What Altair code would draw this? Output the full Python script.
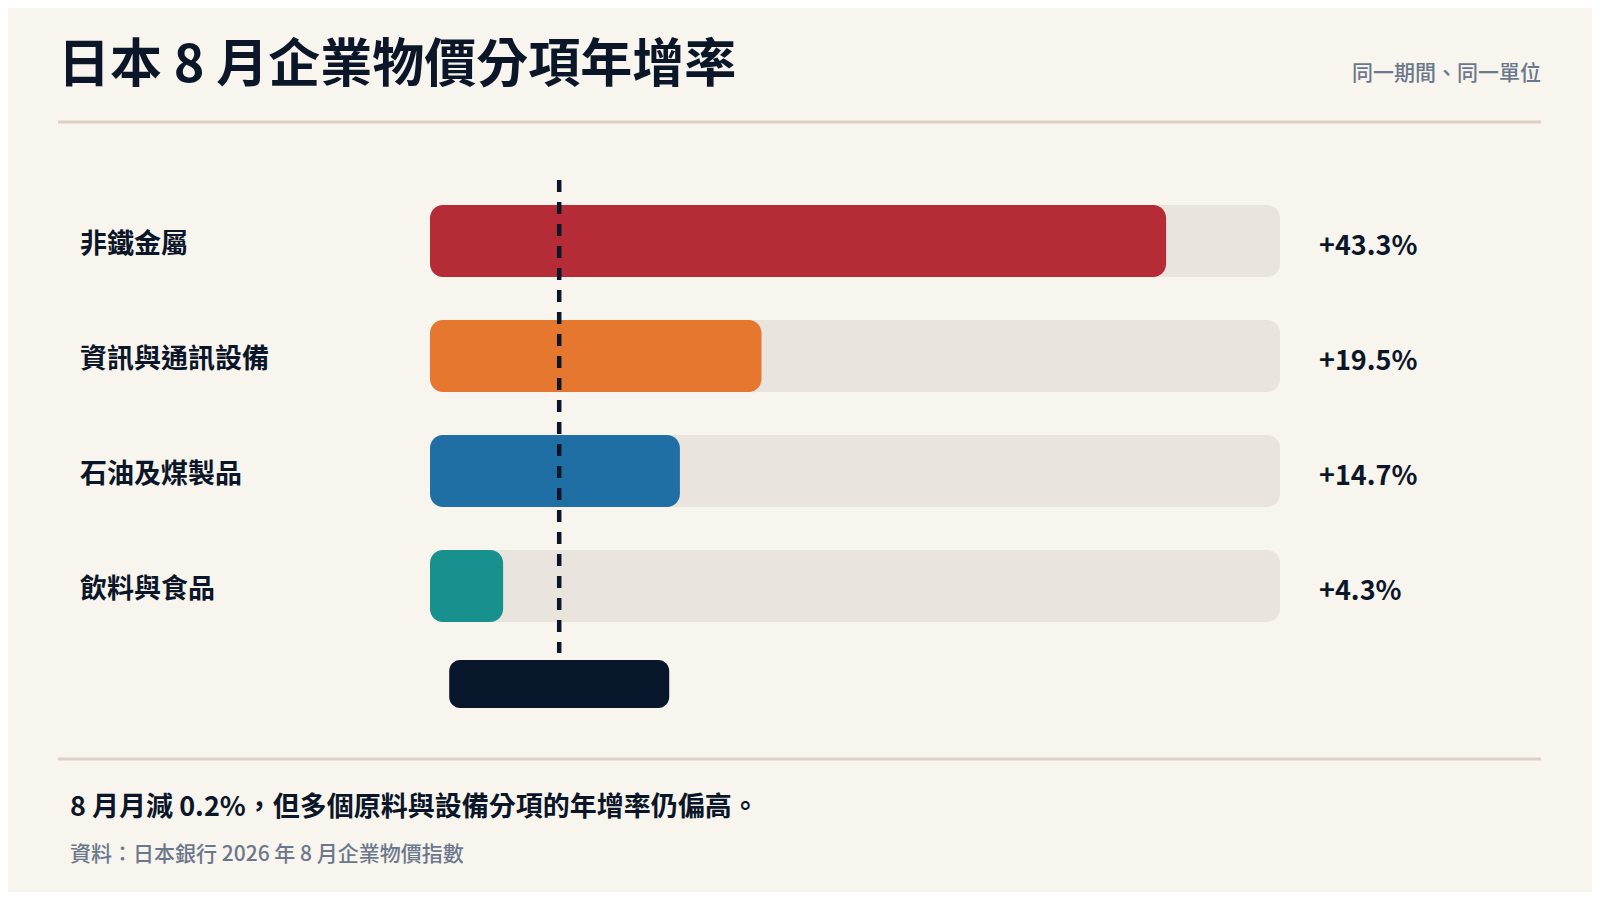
import altair as alt
import pandas as pd

categories = ["非鐵金屬", "資訊與通訊設備", "石油及煤製品", "飲料與食品"]
values = [43.3, 19.5, 14.7, 4.3]
value_labels = ["+43.3%", "+19.5%", "+14.7%", "+4.3%"]
colors = ["#b52c36", "#e5782e", "#1f6fa5", "#18908d"]
track_max = 50
ref_value = 7.6

title_text = "日本 8 月企業物價分項年增率"
subtitle_text = "同一期間、同一單位"
note_text = "8 月月減 0.2%，但多個原料與設備分項的年增率仍偏高。"
source_text = "資料：日本銀行 2026 年 8 月企業物價指數"

FONT = "Noto Sans CJK TC"
BG = "#f8f4ee"
INK = "#0b1629"
GRAY = "#6b788b"
RULE = "#ddd1c3"

df = pd.DataFrame({
    "cat": categories,
    "val": values,
    "label": value_labels,
    "color": colors,
    "track": [track_max] * len(categories),
})

x_scale = alt.Scale(domain=[0, track_max], range=[422, 1272])
y_scale = alt.Scale(domain=categories, range=[175.5, 635.5],
                    paddingInner=0.374, paddingOuter=0.187)

base = alt.Chart(df)

track = base.mark_bar(color="#e9e4dd", cornerRadius=13).encode(
    x=alt.X("track:Q", scale=x_scale, axis=None),
    x2=alt.datum(0),
    y=alt.Y("cat:N", scale=y_scale, axis=None, sort=categories),
)

bars = base.mark_bar(cornerRadius=13).encode(
    x=alt.X("val:Q", scale=x_scale, axis=None),
    x2=alt.datum(0),
    y=alt.Y("cat:N", scale=y_scale, axis=None, sort=categories),
    color=alt.Color("color:N", scale=None, legend=None),
)

cat_labels = base.mark_text(align="left", baseline="middle", font=FONT,
                            fontSize=27, fontWeight="bold", color=INK, dy=4).encode(
    x=alt.value(72),
    y=alt.Y("cat:N", scale=y_scale, axis=None, sort=categories),
    text="cat:N",
)

val_labels = base.mark_text(align="left", baseline="middle", font=FONT,
                            fontSize=27, fontWeight="bold", color=INK, dy=6).encode(
    x=alt.value(1311),
    y=alt.Y("cat:N", scale=y_scale, axis=None, sort=categories),
    text="label:N",
)

ref_df = pd.DataFrame({"ref": [ref_value]})
ref_line = alt.Chart(ref_df).mark_rule(color=INK, strokeWidth=4.5,
                                        strokeDash=[12, 10]).encode(
    x=alt.X("ref:Q", scale=x_scale, axis=None),
    y=alt.value(172),
    y2=alt.value(645),
)

ref_box = alt.Chart(ref_df).mark_rect(color="#08162c", cornerRadius=11,
                                       xOffset=-110, x2Offset=110).encode(
    x=alt.X("ref:Q", scale=x_scale, axis=None),
    x2=alt.X2("ref:Q"),
    y=alt.value(652),
    y2=alt.value(700),
)

text_df = pd.DataFrame({"t": [title_text]})

title = alt.Chart(text_df).mark_text(align="left", baseline="middle", font=FONT,
                                     fontSize=52, fontWeight="bold", color=INK).encode(
    x=alt.value(50), y=alt.value(58), text=alt.value(title_text))

subtitle = alt.Chart(text_df).mark_text(align="right", baseline="middle", font=FONT,
                                        fontSize=21, fontWeight=500, color=GRAY).encode(
    x=alt.value(1533), y=alt.value(66), text=alt.value(subtitle_text))

rule_top = alt.Chart(text_df).mark_rule(color=RULE, strokeWidth=3).encode(
    x=alt.value(50), x2=alt.value(1533), y=alt.value(114))

rule_bottom = alt.Chart(text_df).mark_rule(color=RULE, strokeWidth=3).encode(
    x=alt.value(50), x2=alt.value(1533), y=alt.value(751))

note = alt.Chart(text_df).mark_text(align="left", baseline="middle", font=FONT,
                                    fontSize=27, fontWeight="bold", color=INK).encode(
    x=alt.value(62), y=alt.value(800), text=alt.value(note_text))

source = alt.Chart(text_df).mark_text(align="left", baseline="middle", font=FONT,
                                      fontSize=21, fontWeight=500, color=GRAY).encode(
    x=alt.value(62), y=alt.value(847), text=alt.value(source_text))

chart = alt.layer(
    track, bars, ref_line, ref_box, cat_labels, val_labels,
    title, subtitle, rule_top, rule_bottom, note, source,
).properties(
    width=1584, height=884,
    autosize=alt.AutoSizeParams(type="none"),
    padding=0,
    background=BG,
).configure_view(stroke=None)

chart.save("out.html", embed_options={"renderer": "svg", "actions": False})
